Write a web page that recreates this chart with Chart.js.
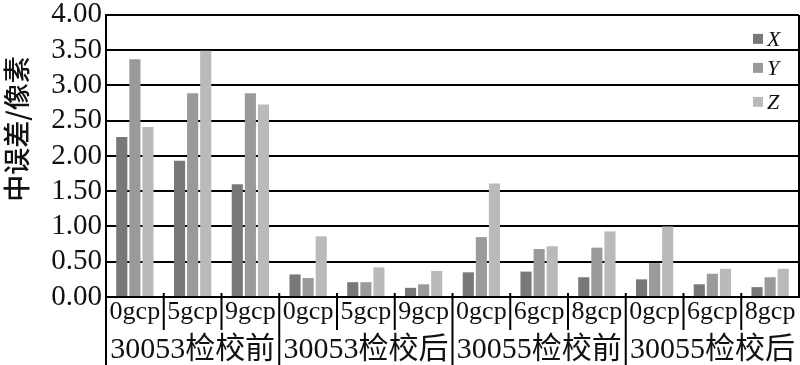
<!DOCTYPE html>
<html>
<head>
<meta charset="utf-8">
<script src="https://cdn.jsdelivr.net/npm/chart.js@4.4.1/dist/chart.umd.min.js"></script>
<style>
    html, body { margin: 0; padding: 0; background: #fff; }
</style>
</head>
<body>
<canvas id="errChart" width="800" height="365"></canvas>
<script>
// chart data
const categories = ['0gcp', '5gcp', '9gcp', '0gcp', '5gcp', '9gcp', '0gcp', '6gcp', '8gcp', '0gcp', '6gcp', '8gcp'];
const groups = ['30053检校前', '30053检校后', '30055检校前', '30055检校后'];
const seriesX = [2.27, 1.93, 1.60, 0.32, 0.21, 0.13, 0.35, 0.36, 0.28, 0.25, 0.18, 0.14];
const seriesY = [3.37, 2.89, 2.89, 0.27, 0.21, 0.18, 0.85, 0.68, 0.70, 0.48, 0.33, 0.28];
const seriesZ = [2.41, 3.49, 2.73, 0.86, 0.42, 0.37, 1.61, 0.72, 0.93, 1.00, 0.40, 0.40];
const yTickLabels = ['0.00', '0.50', '1.00', '1.50', '2.00', '2.50', '3.00', '3.50', '4.00'];
const yTitle = '中误差/像素';

const serif = '"Liberation Serif", "Noto Sans CJK SC", serif';

// separators under the axis + group names + y title
const bottomLabels = {
    id: 'bottomLabels',
    afterDraw(chart) {
        const { ctx, chartArea, scales: { x } } = chart;
        const H = chart.height;
        ctx.save();
        ctx.strokeStyle = '#000';
        ctx.lineWidth = 2;
        ctx.beginPath();
        ctx.moveTo(chartArea.left, chartArea.top);
        ctx.lineTo(chartArea.left, H);
        ctx.moveTo(chartArea.right, chartArea.top);
        ctx.lineTo(chartArea.right, chartArea.bottom);
        for (let i = 1; i < categories.length; i++) {
            const sx = (x.getPixelForValue(i - 1) + x.getPixelForValue(i)) / 2;
            ctx.moveTo(sx, chartArea.bottom - 4);
            ctx.lineTo(sx, i % 3 === 0 ? H : chartArea.bottom + 33);
        }
        ctx.stroke();

        ctx.fillStyle = '#111';
        ctx.font = '30px ' + serif;
        ctx.textAlign = 'center';
        ctx.textBaseline = 'alphabetic';
        groups.forEach((g, k) => {
            const cx = (x.getPixelForValue(k * 3) + x.getPixelForValue(k * 3 + 2)) / 2;
            ctx.fillText(g, cx, H - 7);
        });

        // y title sits a bit above the middle in the original
        ctx.translate(17, 129);
        ctx.rotate(-Math.PI / 2);
        ctx.font = '500 27px "Noto Sans CJK SC", sans-serif';
        ctx.textBaseline = 'middle';
        ctx.fillText(yTitle, 0, 0);
        ctx.restore();
    }
};

// legend drawn inside the plot, top right
const innerLegend = {
    id: 'innerLegend',
    afterDraw(chart) {
        const { ctx, chartArea } = chart;
        const offsets = [24, 53, 87];
        ctx.save();
        ctx.font = 'italic 22px ' + serif;
        ctx.textBaseline = 'middle';
        ctx.textAlign = 'left';
        chart.data.datasets.forEach((ds, i) => {
            const y = chartArea.top + offsets[i];
            ctx.fillStyle = ds.backgroundColor;
            ctx.fillRect(753, y - 5, 10, 10);
            ctx.fillStyle = '#111';
            ctx.fillText(ds.label, 767, y + 1);
        });
        ctx.restore();
    }
};

const ctx = document.getElementById('errChart').getContext('2d');
new Chart(ctx, {
    type: 'bar',
    data: {
        labels: categories,
        datasets: [
            { label: 'X', data: seriesX, backgroundColor: '#787878' },
            { label: 'Y', data: seriesY, backgroundColor: '#9a9a9a' },
            { label: 'Z', data: seriesZ, backgroundColor: '#bababa' }
        ]
    },
    options: {
        responsive: false,
        animation: false,
        categoryPercentage: 0.68,
        barPercentage: 0.85,
        layout: { padding: { top: 0, right: 1, left: 0, bottom: 0 } },
        scales: {
            x: {
                grid: { display: false, drawTicks: false },
                border: { display: true, color: '#000', width: 2 },
                ticks: {
                    color: '#111',
                    font: { family: serif, size: 26 },
                    padding: 0,
                    maxRotation: 0,
                    autoSkip: false
                },
                afterFit(scale) { scale.height = 68; }
            },
            y: {
                min: 0,
                max: 4,
                ticks: {
                    stepSize: 0.5,
                    color: '#111',
                    padding: 4,
                    font: { family: serif, size: 29, lineHeight: 0.75 },
                    callback: (v, i) => yTickLabels[i]
                },
                grid: { color: '#000', lineWidth: 2, drawTicks: false },
                border: { display: true, color: '#000', width: 2 },
                afterFit(scale) { scale.width = 106; }
            }
        },
        plugins: {
            legend: { display: false },
            tooltip: { enabled: false }
        }
    },
    plugins: [bottomLabels, innerLegend]
});
</script>
</body>
</html>
